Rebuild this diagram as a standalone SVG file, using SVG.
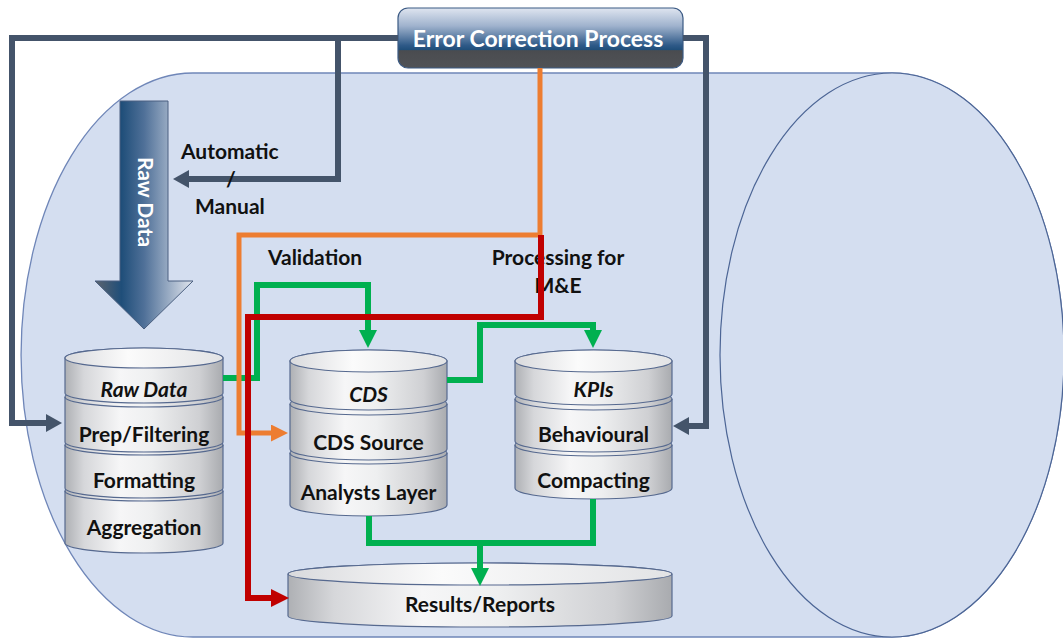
<svg xmlns="http://www.w3.org/2000/svg" width="1063" height="639" viewBox="0 0 1063 639">
  <defs>
    <style>
      .lbl { font-family: Lato, "Open Sans", "Liberation Sans", sans-serif; font-weight: 700; font-size: 21px; fill: #111; }
      .seg-text { font-family: Lato, "Open Sans", "Liberation Sans", sans-serif; font-weight: 700; font-size: 21px; fill: #111; text-anchor: middle; }
      .ital { font-style: italic; }
      .side { fill: url(#metal); stroke: #56698f; stroke-width: 1.2; }
      .rim { fill: none; stroke: #56698f; stroke-width: 1.2; }
      .top { fill: url(#capTop); stroke: #56698f; stroke-width: 1.2; }
      .dark { fill: none; stroke: #44546a; stroke-width: 6; }
      .green { fill: none; stroke: #00b050; stroke-width: 6; }
      .orange { fill: none; stroke: #ed7d31; stroke-width: 5; }
      .red { fill: none; stroke: #c00000; stroke-width: 6; }
    </style>
    <linearGradient id="metal" x1="0" y1="0" x2="1" y2="0">
      <stop offset="0" stop-color="#aeb0b4"/>
      <stop offset="0.12" stop-color="#d6d7da"/>
      <stop offset="0.35" stop-color="#f6f6f7"/>
      <stop offset="0.55" stop-color="#eeeff0"/>
      <stop offset="0.85" stop-color="#cfd0d3"/>
      <stop offset="1" stop-color="#a9abaf"/>
    </linearGradient>
    <linearGradient id="capTop" x1="0" y1="0" x2="1" y2="0">
      <stop offset="0" stop-color="#d9dadd"/>
      <stop offset="0.4" stop-color="#fbfbfb"/>
      <stop offset="1" stop-color="#e2e3e5"/>
    </linearGradient>
    <linearGradient id="ecpFill" x1="0" y1="0" x2="0" y2="1">
      <stop offset="0" stop-color="#dfe5f0"/>
      <stop offset="0.3" stop-color="#9fb2cd"/>
      <stop offset="0.62" stop-color="#2f5a88"/>
      <stop offset="0.7" stop-color="#1f4e79"/>
      <stop offset="0.71" stop-color="#4a4c50"/>
      <stop offset="1" stop-color="#505256"/>
    </linearGradient>
    <linearGradient id="rawArrow" gradientUnits="userSpaceOnUse" x1="95" y1="0" x2="193" y2="0">
      <stop offset="0" stop-color="#5d646e"/>
      <stop offset="0.27" stop-color="#1f4e79"/>
      <stop offset="0.5" stop-color="#4f7098"/>
      <stop offset="1" stop-color="#e2e6ee"/>
    </linearGradient>
    <marker id="ahDark" markerUnits="userSpaceOnUse" markerWidth="16" markerHeight="18" refX="1" refY="9" orient="auto">
      <path d="M0,0 L16,9 L0,18 Z" fill="#44546a"/>
    </marker>
    <marker id="ahGreen" markerUnits="userSpaceOnUse" markerWidth="18" markerHeight="18" refX="1" refY="9" orient="auto">
      <path d="M0,0 L18,9 L0,18 Z" fill="#00b050"/>
    </marker>
    <marker id="ahOrange" markerUnits="userSpaceOnUse" markerWidth="17" markerHeight="17" refX="1" refY="8.5" orient="auto">
      <path d="M0,0 L17,8.5 L0,17 Z" fill="#ed7d31"/>
    </marker>
    <marker id="ahRed" markerUnits="userSpaceOnUse" markerWidth="18" markerHeight="18" refX="1" refY="9" orient="auto">
      <path d="M0,0 L18,9 L0,18 Z" fill="#c00000"/>
    </marker>
  </defs>

  <rect width="1063" height="639" fill="#ffffff"/>

  <!-- horizontal container cylinder -->
  <g id="container">
    <path d="M193,73 L892,73 A172,282 0 0 1 892,637 L193,637 A172,282 0 0 1 193,73 Z" fill="#d4def0" stroke="#6f86b8" stroke-width="1.3"/>
    <ellipse cx="892" cy="355" rx="172" ry="282" fill="#d4def0" stroke="#4c6595" stroke-width="1.2"/>
  </g>

  <!-- raw data block arrow -->
  <g id="raw-data-arrow">
    <path d="M120,101 L168,101 L168,281 L193,281 L144,329 L95,281 L120,281 Z" fill="url(#rawArrow)" stroke="#4a5f80" stroke-width="1"/>
    <text x="0" y="0" transform="translate(138,202) rotate(90)" text-anchor="middle" style="font-family: Lato, 'Open Sans', 'Liberation Sans', sans-serif; font-weight: 700; font-size: 21px; fill: #ffffff;">Raw Data</text>
  </g>

  <!-- Error Correction Process -->
  <g id="error-correction">
    <rect x="398" y="8" width="285" height="60" rx="10" fill="url(#ecpFill)" stroke="#3b5a84" stroke-width="1.2"/>
    <text x="538" y="47" text-anchor="middle" style="font-family: Lato, 'Open Sans', 'Liberation Sans', sans-serif; font-weight: 700; font-size: 23px; fill: #ffffff;">Error Correction Process</text>
  </g>

  <!-- raw data stack (drawn bottom-up so upper segments overlap lower rims) -->
  <g id="raw-data-stack">
    <path class="side" d="M65,491 L65,543 A79,10 0 0 0 223,543 L223,491 A79,10 0 0 0 65,491 Z"/>
    <path class="rim" d="M65,491 A79,10 0 0 0 223,491"/>
    <text class="seg-text" x="144" y="535">Aggregation</text>
    <path class="side" d="M65,445 L65,488 A79,10 0 0 0 223,488 L223,445 A79,10 0 0 0 65,445 Z"/>
    <path class="rim" d="M65,445 A79,10 0 0 0 223,445"/>
    <text class="seg-text" x="144" y="488">Formatting</text>
    <path class="side" d="M65,397 L65,442 A79,10 0 0 0 223,442 L223,397 A79,10 0 0 0 65,397 Z"/>
    <path class="rim" d="M65,397 A79,10 0 0 0 223,397"/>
    <text class="seg-text" x="144" y="442">Prep/Filtering</text>
    <path class="side" d="M65,358 L65,393 A79,10 0 0 0 223,393 L223,358 A79,10 0 0 0 65,358 Z"/>
    <ellipse class="top" cx="144" cy="358" rx="79" ry="10"/>
    <text class="seg-text ital" x="144" y="397">Raw Data</text>
  </g>

  <!-- CDS stack -->
  <g id="cds-stack">
    <path class="side" d="M290,453 L290,505 A78.5,11 0 0 0 447,505 L447,453 A78.5,11 0 0 0 290,453 Z"/>
    <path class="rim" d="M290,453 A78.5,11 0 0 0 447,453"/>
    <text class="seg-text" x="368.5" y="500">Analysts Layer</text>
    <path class="side" d="M290,404 L290,449 A78.5,11 0 0 0 447,449 L447,404 A78.5,11 0 0 0 290,404 Z"/>
    <path class="rim" d="M290,404 A78.5,11 0 0 0 447,404"/>
    <text class="seg-text" x="368.5" y="450">CDS Source</text>
    <path class="side" d="M290,361 L290,399 A78.5,11 0 0 0 447,399 L447,361 A78.5,11 0 0 0 290,361 Z"/>
    <ellipse class="top" cx="368.5" cy="361" rx="78.5" ry="11"/>
    <text class="seg-text ital" x="368.5" y="402">CDS</text>
  </g>

  <!-- KPIs stack -->
  <g id="kpis-stack">
    <path class="side" d="M515,445 L515,488 A78.5,11 0 0 0 672,488 L672,445 A78.5,11 0 0 0 515,445 Z"/>
    <path class="rim" d="M515,445 A78.5,11 0 0 0 672,445"/>
    <text class="seg-text" x="593.5" y="488">Compacting</text>
    <path class="side" d="M515,399 L515,441 A78.5,11 0 0 0 672,441 L672,399 A78.5,11 0 0 0 515,399 Z"/>
    <path class="rim" d="M515,399 A78.5,11 0 0 0 672,399"/>
    <text class="seg-text" x="593.5" y="442">Behavioural</text>
    <path class="side" d="M515,361 L515,394 A78.5,11 0 0 0 672,394 L672,361 A78.5,11 0 0 0 515,361 Z"/>
    <ellipse class="top" cx="593.5" cy="361" rx="78.5" ry="11"/>
    <text class="seg-text ital" x="593.5" y="397">KPIs</text>
  </g>

  <!-- Results/Reports -->
  <g id="results-reports">
    <path class="side" d="M288,574 L288,616 A192,11 0 0 0 672,616 L672,574 A192,11 0 0 0 288,574 Z"/>
    <ellipse class="top" cx="480" cy="574" rx="192" ry="11"/>
    <text class="seg-text" x="480" y="612">Results/Reports</text>
  </g>

  <!-- stage labels -->
  <g id="stage-labels">
    <text class="lbl" x="268" y="265">Validation</text>
    <text class="lbl" x="558" y="265" text-anchor="middle">Processing for</text>
    <text class="lbl" x="558" y="293" text-anchor="middle">M&amp;E</text>
  </g>

  <!-- connectors -->
  <g id="connectors">
    <!-- correction feedback loops -->
    <path class="dark" d="M398,38 L12,38 L12,423 L47,423" marker-end="url(#ahDark)"/>
    <path class="dark" d="M338,38 L338,179 L188,179" marker-end="url(#ahDark)"/>
    <path class="dark" d="M683,38 L706,38 L706,426 L688,426" marker-end="url(#ahDark)"/>
    <!-- data flow -->
    <path class="green" d="M223,378 L257,378 L257,285 L368,285 L368,331" marker-end="url(#ahGreen)"/>
    <path class="green" d="M447,380 L480,380 L480,325 L593,325 L593,331" marker-end="url(#ahGreen)"/>
    <path class="green" d="M369,516 L369,543 L593,543 L593,499"/>
    <path class="green" d="M480,543 L480,569" marker-end="url(#ahGreen)"/>
    <path class="orange" d="M540,68 L540,235 L239,235 L239,433 L272,433" marker-end="url(#ahOrange)"/>
    <path class="red" d="M541,235 L541,317 L248,317 L248,598 L272,598" marker-end="url(#ahRed)"/>
  </g>

  <g id="correction-mode-label">
    <text class="lbl" x="181" y="159">Automatic</text>
    <text class="lbl" x="231" y="187" text-anchor="middle">/</text>
    <text class="lbl" x="195" y="214">Manual</text>
  </g>
</svg>
